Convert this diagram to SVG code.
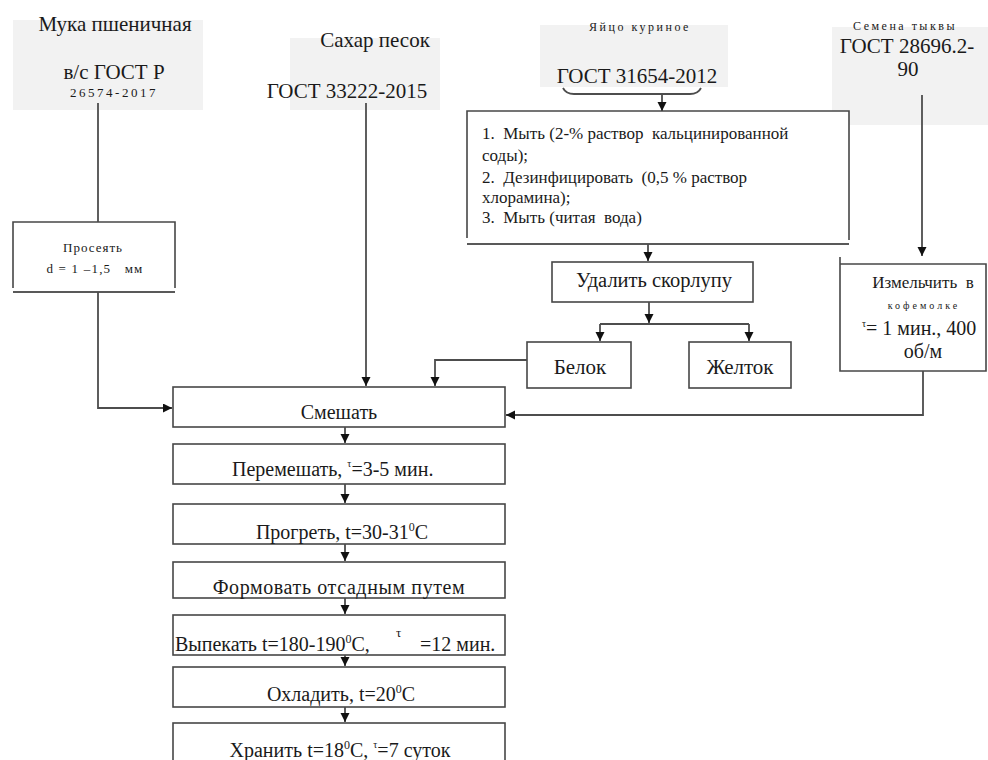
<svg xmlns="http://www.w3.org/2000/svg" width="988" height="760" viewBox="0 0 988 760">
  <defs>
    <marker id="arr" markerUnits="userSpaceOnUse" markerWidth="10" markerHeight="10" refX="9" refY="4.5" orient="auto">
      <path d="M0,0 L9,4.5 L0,9 z" fill="#111"/>
    </marker>
    <style>
      text { font-family: "Liberation Serif", "Times New Roman", serif; fill: #1a1a1a; }
      .src { fill: #f2f2f2; stroke: none; }
      .box { fill: #fff; stroke: #474747; stroke-width: 1.6; }
      .edge { fill: none; stroke: #4d4d4d; stroke-width: 1.8; }
      .big { font-size: 21px; }
      .mid { font-size: 20px; }
      .txt { font-size: 17px; }
      .tiny { font-size: 12px; letter-spacing: 2.5px; }
      .c { text-anchor: middle; }
    </style>
  </defs>
  <rect width="988" height="760" fill="#fff"/>

  <!-- raw materials -->
  <g id="flour">
    <rect class="src" x="13" y="20" width="190" height="90"/>
    <text class="big c" x="115" y="31">Мука пшеничная</text>
    <text class="big c" x="114" y="79">в/с ГОСТ Р</text>
    <text class="c" x="114" y="97" font-size="13" letter-spacing="2.5">26574-2017</text>
  </g>
  <g id="sugar">
    <rect class="src" x="290" y="38" width="150" height="72"/>
    <text class="big c" x="375" y="47">Сахар песок</text>
    <text class="big c" x="347" y="98">ГОСТ 33222-2015</text>
  </g>
  <g id="egg">
    <rect class="src" x="540" y="25" width="188" height="62"/>
    <text class="tiny c" x="640" y="31">Яйцо  куриное</text>
    <text class="big c" x="637" y="83">ГОСТ 31654-2012</text>
  </g>
  <g id="seeds">
    <rect class="src" x="832" y="27" width="156" height="98"/>
    <text class="tiny c" x="905" y="30">Семена  тыквы</text>
    <text class="big c" x="907" y="53">ГОСТ 28696.2-</text>
    <text class="big c" x="908" y="76">90</text>
  </g>

  <!-- preparation steps -->
  <g id="sift">
    <path class="box" d="M13,288 V222 H175 V288" fill="none"/>
    <line x1="13" y1="292" x2="175" y2="292" stroke="#222" stroke-width="1.6"/>
    <text class="c" x="93" y="252" font-size="13" letter-spacing="1">Просеять</text>
    <text class="c" x="95" y="273" font-size="13" letter-spacing="1.2" xml:space="preserve">d = 1 –1,5   мм</text>
  </g>
  <g id="wash">
    <path class="box" d="M467,238 V111 H849 V240" fill="none"/>
    <line x1="467" y1="244" x2="849" y2="244" stroke="#222" stroke-width="1.6"/>
    <text class="txt" x="482" y="139" xml:space="preserve">1.  Мыть (2-% раствор  кальцинированной</text>
    <text class="txt" x="482" y="161">соды);</text>
    <text class="txt" x="482" y="183" xml:space="preserve">2.  Дезинфицировать  (0,5 % раствор</text>
    <text class="txt" x="482" y="203">хлорамина);</text>
    <text class="txt" x="482" y="223" xml:space="preserve">3.  Мыть (читая  вода)</text>
  </g>
  <g id="shell">
    <rect class="box" x="552" y="262" width="201" height="40" stroke="#222"/>
    <text class="c" x="654" y="287" font-size="20.5">Удалить скорлупу</text>
  </g>
  <g id="white">
    <rect class="box" x="527" y="342" width="104" height="46"/>
    <text class="c" x="580" y="374" font-size="21">Белок</text>
  </g>
  <g id="yolk">
    <rect class="box" x="689" y="342" width="102" height="46"/>
    <text class="c" x="740" y="374" font-size="21">Желток</text>
  </g>
  <g id="grind">
    <path class="box" d="M840,257 V371 H986 V264 H840" fill="none"/>
    <text class="txt c" x="923" y="288" xml:space="preserve">Измельчить  в</text>
    <text class="c" x="924" y="309" font-size="10" letter-spacing="3">кофемолке</text>
    <text x="862" y="335" font-size="20"><tspan font-size="10" dy="-8">τ</tspan><tspan dy="8">= 1 мин., 400</tspan></text>
    <text class="mid c" x="923" y="358">об/м</text>
  </g>

  <!-- main line -->
  <g id="mix">
    <rect class="box" x="173" y="387" width="332" height="40"/>
    <text class="mid c" x="339" y="419">Смешать</text>
  </g>
  <g id="stir">
    <rect class="box" x="173" y="444" width="332" height="40"/>
    <text class="mid" x="232" y="476">Перемешать, <tspan font-size="10" dy="-9">τ</tspan><tspan dy="9">=3-5 мин.</tspan></text>
  </g>
  <g id="heat">
    <rect class="box" x="173" y="504" width="332" height="40"/>
    <text class="mid c" x="342" y="539">Прогреть, t=30-31<tspan font-size="12" dy="-8">0</tspan><tspan dy="8">C</tspan></text>
  </g>
  <g id="shape">
    <rect class="box" x="173" y="562" width="332" height="36"/>
    <text class="mid c" x="339" y="594" letter-spacing="0.6">Формовать отсадным путем</text>
  </g>
  <g id="bake">
    <rect class="box" x="173" y="615" width="332" height="40"/>
    <text class="mid" x="175" y="651">Выпекать t=180-190<tspan font-size="12" dy="-8">0</tspan><tspan dy="8">С,</tspan></text>
    <text x="396" y="637" font-size="13">τ</text>
    <text class="mid" x="420" y="651">=12 мин.</text>
  </g>
  <g id="cool">
    <rect class="box" x="173" y="667" width="332" height="40"/>
    <text class="mid c" x="341" y="701">Охладить, t=20<tspan font-size="12" dy="-8">0</tspan><tspan dy="8">C</tspan></text>
  </g>
  <g id="store">
    <rect class="box" x="173" y="723" width="332" height="50"/>
    <text class="mid c" x="340" y="757">Хранить t=18<tspan font-size="12" dy="-8">0</tspan><tspan dy="8">С, </tspan><tspan font-size="10" dy="-9">τ</tspan><tspan dy="9">=7 суток</tspan></text>
  </g>

  <g id="connectors">
    <!-- flour -> sift -> mix -->
    <line class="edge" x1="98" y1="103" x2="98" y2="222"/>
    <polyline class="edge" points="98,292 98,408 172,408" marker-end="url(#arr)"/>
    <!-- sugar -> mix -->
    <line class="edge" x1="366" y1="103" x2="366" y2="386" marker-end="url(#arr)"/>
    <!-- egg brace -> wash -->
    <path class="edge" d="M563,88 Q566,94 574,94 H690 Q698,94 701,88" stroke-width="1.4"/>
    <line class="edge" x1="662" y1="94" x2="662" y2="111" marker-end="url(#arr)"/>
    <!-- wash -> shell -->
    <line class="edge" x1="648" y1="244" x2="648" y2="261" marker-end="url(#arr)"/>
    <!-- shell -> white / yolk -->
    <line class="edge" x1="649" y1="302" x2="649" y2="323" marker-end="url(#arr)"/>
    <line class="edge" x1="600" y1="324" x2="749" y2="324"/>
    <line class="edge" x1="600" y1="324" x2="600" y2="341" marker-end="url(#arr)"/>
    <line class="edge" x1="749" y1="324" x2="749" y2="341" marker-end="url(#arr)"/>
    <!-- white -> mix -->
    <polyline class="edge" points="527,360 435,360 435,386" marker-end="url(#arr)"/>
    <!-- seeds -> grind -> mix -->
    <line class="edge" x1="922" y1="95" x2="922" y2="256" marker-end="url(#arr)"/>
    <polyline class="edge" points="923,371 923,415 506,415" marker-end="url(#arr)"/>
    <!-- main sequence -->
    <line class="edge" x1="345" y1="427" x2="345" y2="443" marker-end="url(#arr)"/>
    <line class="edge" x1="345" y1="484" x2="345" y2="503" marker-end="url(#arr)"/>
    <line class="edge" x1="345" y1="544" x2="345" y2="561" marker-end="url(#arr)"/>
    <line class="edge" x1="345" y1="598" x2="345" y2="614" marker-end="url(#arr)"/>
    <line class="edge" x1="345" y1="655" x2="345" y2="666" marker-end="url(#arr)"/>
    <line class="edge" x1="345" y1="707" x2="345" y2="722" marker-end="url(#arr)"/>
  </g>
</svg>
